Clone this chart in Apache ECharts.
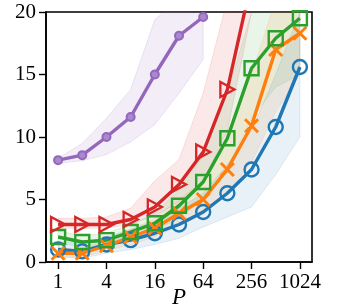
<!DOCTYPE html>
<html>
<head>
<meta charset="utf-8">
<script src="https://cdn.jsdelivr.net/npm/echarts@6/dist/echarts.min.js"></script>
<style>html,body{margin:0;padding:0;background:#fff;}#c{width:339px;height:308px;}</style>
</head>
<body>
<div id="c"></div>
<script>
// ---- data ----
var P = [1, 2, 4, 8, 16, 32, 64, 128, 256, 512, 1024];
var xTicks = [1, 4, 16, 64, 256, 1024];
var yTicks = [0, 5, 10, 15, 20];

var blue   = [1.0, 0.85, 1.4, 1.75, 2.3, 3.0, 4.0, 5.5, 7.4, 10.8, 15.6];
var orange = [0.7, 0.7, 1.3, 2.0, 2.7, 3.9, 5.0, 7.4, 10.9, 17.0, 18.3];
var green  = [2.0, 1.6, 1.75, 2.4, 3.1, 4.5, 6.4, 9.9, 15.5, 17.9, 19.5];
var red    = [3.0, 3.0, 3.0, 3.4, 4.4, 6.2, 8.8, 13.8, 22.5];
var purple = [8.15, 8.55, 10.0, 11.6, 15.0, 18.1, 19.6];

var blueLo   = [0.4, 0.3, 0.7, 1.0, 1.4, 1.9, 2.8, 3.6, 4.4, 7.0, 10.0];
var blueHi   = [1.6, 1.5, 2.0, 2.6, 3.3, 4.3, 5.5, 7.8, 10.5, 15.0, 20.0];
var orangeLo = [0.4, 0.4, 0.9, 1.4, 2.0, 2.9, 3.8, 5.5, 8.0, 12.0, 15.0];
var orangeHi = [1.1, 1.1, 1.8, 2.6, 3.5, 5.0, 6.5, 10.0, 15.0, 21.0, 21.0];
var greenLo  = [1.5, 1.2, 1.3, 1.9, 2.5, 3.5, 5.0, 7.5, 11.5, 14.0, 15.0];
var greenHi  = [2.5, 2.1, 2.3, 3.0, 3.9, 5.8, 8.5, 13.5, 20.0, 22.0, 22.0];
var redLo    = [2.7, 2.7, 2.7, 3.0, 3.7, 4.8, 6.5, 10.5, 20.0];
var redHi    = [3.5, 3.5, 3.6, 4.3, 6.5, 8.2, 13.5, 21.0, 30.0];
var purpleLo = [7.9, 8.1, 8.6, 9.6, 11.0, 13.5, 16.2];
var purpleHi = [8.3, 9.5, 11.5, 13.8, 19.4, 21.0, 21.0];

var C = {blue:'#1f77b4', orange:'#ff7f0e', green:'#2ca02c', red:'#d62728', purple:'#9467bd'};

function pairs(vals){ return vals.map(function(v,i){ return [P[i], v]; }); }

function band(lo, hi, fill, stroke){
  return {
    type:'custom', silent:true, clip:true, z:1,
    data:[[P[0], lo[0]]],
    renderItem:function(params, api){
      if (params.dataIndex !== 0) return;
      var pts = [];
      for (var i = 0; i < hi.length; i++) pts.push(api.coord([P[i], hi[i]]));
      for (var j = lo.length - 1; j >= 0; j--) pts.push(api.coord([P[j], lo[j]]));
      var cs = params.coordSys;
      return {
        type:'group',
        clipPath:{type:'rect', shape:{x:cs.x, y:cs.y, width:cs.width, height:cs.height}},
        children:[{type:'polygon', shape:{points:pts}, style:{fill:fill, stroke:stroke, lineWidth:1}}]
      };
    }
  };
}

function line(vals, color, symbol, size, hollow, extra){
  var s = {
    type:'line', data:pairs(vals), clip:true, z:3,
    symbol:symbol, symbolSize:size, showSymbol:true,
    lineStyle:{color:color, width:3.4},
    itemStyle: hollow ? {color:'rgba(0,0,0,0)', borderColor:color, borderWidth:2.4}
                      : {color:color, borderColor:color, borderWidth:1},
    emphasis:{disabled:true}, animation:false
  };
  for (var k in extra) s[k] = extra[k];
  return s;
}

var chart = echarts.init(document.getElementById('c'), null, {renderer:'canvas'});
var font = 'Liberation Serif';
chart.setOption({
  animation:false,
  grid:{left:46, right:27, top:12, bottom:46, outerBoundsMode:'none', containLabel:false,
        show:true, borderColor:'#000', borderWidth:1.6, backgroundColor:'transparent'},
  xAxis:{
    type:'log', logBase:2, min:Math.SQRT1_2, max:1024*Math.SQRT2,
    axisLine:{show:true, lineStyle:{color:'#000', width:1.6}},
    axisTick:{show:true, inside:false, length:7, lineStyle:{color:'#000', width:1.4}, customValues:xTicks},
    axisLabel:{customValues:xTicks, margin:10, color:'#000', fontFamily:font, fontSize:21, hideOverlap:false,
      formatter:function(v){ return String(Math.round(v)); }},
    splitLine:{show:false}, minorTick:{show:false},
    name:'P', nameLocation:'middle', nameGap:24, nameMoveOverlap:false,
    nameTextStyle:{fontFamily:font, fontStyle:'italic', fontSize:23, color:'#000'}
  },
  yAxis:{
    type:'value', min:0, max:20, interval:5,
    axisLine:{show:true, lineStyle:{color:'#000', width:1.6}},
    axisTick:{show:true, inside:false, length:7, lineStyle:{color:'#000', width:1.4}},
    axisLabel:{margin:10, color:'#000', fontFamily:font, fontSize:21},
    splitLine:{show:false}
  },
  series:[
    band(purpleLo, purpleHi, 'rgba(148,103,189,0.12)', 'rgba(148,103,189,0.15)'),
    band(redLo, redHi, 'rgba(214,39,40,0.10)', 'rgba(214,39,40,0.12)'),
    band(greenLo, greenHi, 'rgba(44,160,44,0.10)', 'rgba(44,160,44,0.12)'),
    band(orangeLo, orangeHi, 'rgba(255,127,14,0.10)', 'rgba(255,127,14,0.12)'),
    band(blueLo, blueHi, 'rgba(31,119,180,0.10)', 'rgba(31,119,180,0.12)'),
    line(blue, C.blue, 'circle', 14, true),
    line(orange, C.orange, 'path://M0 0L10 10M10 0L0 10', 13, true,
      {itemStyle:{color:'rgba(0,0,0,0)', borderColor:C.orange, borderWidth:3}}),
    line(green, C.green, 'rect', 14, true),
    line(red, C.red, 'triangle', [15, 14], true, {symbolRotate:-90}),
    line(purple, C.purple, 'circle', 8, false,
      {itemStyle:{color:'#a689cf', borderColor:C.purple, borderWidth:2}})
  ]
});
</script>
</body>
</html>
